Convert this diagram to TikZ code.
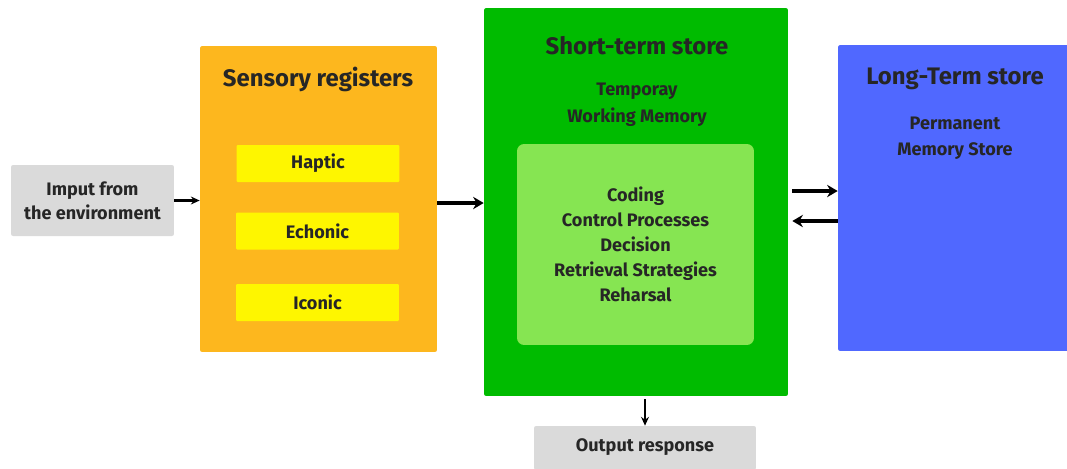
\documentclass[tikz,border=0pt]{standalone}
\usepackage{fontspec}
\setmainfont{Fira Sans}
\usetikzlibrary{arrows.meta,calc}
\definecolor{txt}{HTML}{262626}
\definecolor{greybox}{HTML}{DADADA}
\definecolor{orangebox}{HTML}{FDB71E}
\definecolor{yellowbox}{HTML}{FEF600}
\definecolor{greenbox}{HTML}{00BB00}
\definecolor{lightgreen}{HTML}{86E552}
\definecolor{bluebox}{HTML}{5068FF}
\tikzset{
  box/.style={rounded corners=1.2pt,inner sep=0pt,text=txt,font=\bfseries\fontsize{10.3}{13.5}\selectfont,align=center},
  title/.style={text=txt,font=\bfseries\fontsize{13.6}{15}\selectfont,align=center},
  thinarrow/.style={-{Stealth[length=5pt,width=4.5pt]},line width=1.3pt,black},
  thickarrow/.style={-{Stealth[length=6pt,width=7pt]},line width=2.2pt,black}
}
\begin{document}
\begin{tikzpicture}[x=0.02cm,y=-0.02cm]
\useasboundingbox[fill=white] (0,0) rectangle (1067,468);
% boxes
\node[box,fill=greybox,minimum width=3.26cm,minimum height=1.42cm] (input) at (92.5,200.5) {Imput from\\the environment};
\node[box,fill=orangebox,minimum width=4.74cm,minimum height=6.12cm] (sensory) at (318.5,199) {};
\node[box,fill=yellowbox,minimum width=3.26cm,minimum height=0.74cm,rounded corners=0.6pt] (haptic) at (318,163.5) {Haptic};
\node[box,fill=yellowbox,minimum width=3.26cm,minimum height=0.74cm,rounded corners=0.6pt] (echonic) at (317.5,231) {Echonic};
\node[box,fill=yellowbox,minimum width=3.26cm,minimum height=0.74cm,rounded corners=0.6pt] (iconic) at (317.5,302.5) {Iconic};
\node[box,fill=greenbox,minimum width=6.08cm,minimum height=7.76cm] (sts) at (636,202) {};
\node[box,fill=lightgreen,minimum width=4.74cm,minimum height=4.02cm,rounded corners=4pt,font=\bfseries\fontsize{10.3}{14.2}\selectfont] (process) at (635.5,244.5) {Coding\\Control Processes\\Decision\\Retrieval Strategies\\Reharsal};
\node[box,fill=bluebox,minimum width=4.74cm,minimum height=6.12cm] (lts) at (956.5,198) {};
\node[box,fill=greybox,minimum width=4.44cm,minimum height=0.88cm] (output) at (645,448) {};
\node[box] (outtext) at (645,447) {Output response};
% titles
\node[title] (senstitle) at (318,79) {Sensory registers};
\node[title] (ststitle) at (637,46) {Short-term store};
\node[box,font=\bfseries\fontsize{10.3}{15.3}\selectfont] (stssub) at (637,104.5) {Temporay\\Working Memory};
\node[title] (ltstitle) at (955,79) {Long-Term store};
\node[box,font=\bfseries\fontsize{10.3}{14.8}\selectfont] (ltssub) at (955,138) {Permanent\\Memory Store};
% arrows
\draw[thinarrow] (input.east) -- (input.east -| sensory.west);
\draw[thickarrow] (sensory.east) ++(0,4) coordinate (s1) (s1) -- (s1 -| sts.west);
\coordinate (a1) at ($(sts.east)+(4,-11)$);
\coordinate (a2) at ($(sts.east)+(4,19)$);
\draw[thickarrow] (a1) -- (a1 -| lts.west);
\draw[thickarrow] (a2 -| lts.west) -- (a2);
\draw[thinarrow] (sts.south -| output.north) ++(0,3) coordinate (o1) (o1) -- (output.north);
\end{tikzpicture}
\end{document}
